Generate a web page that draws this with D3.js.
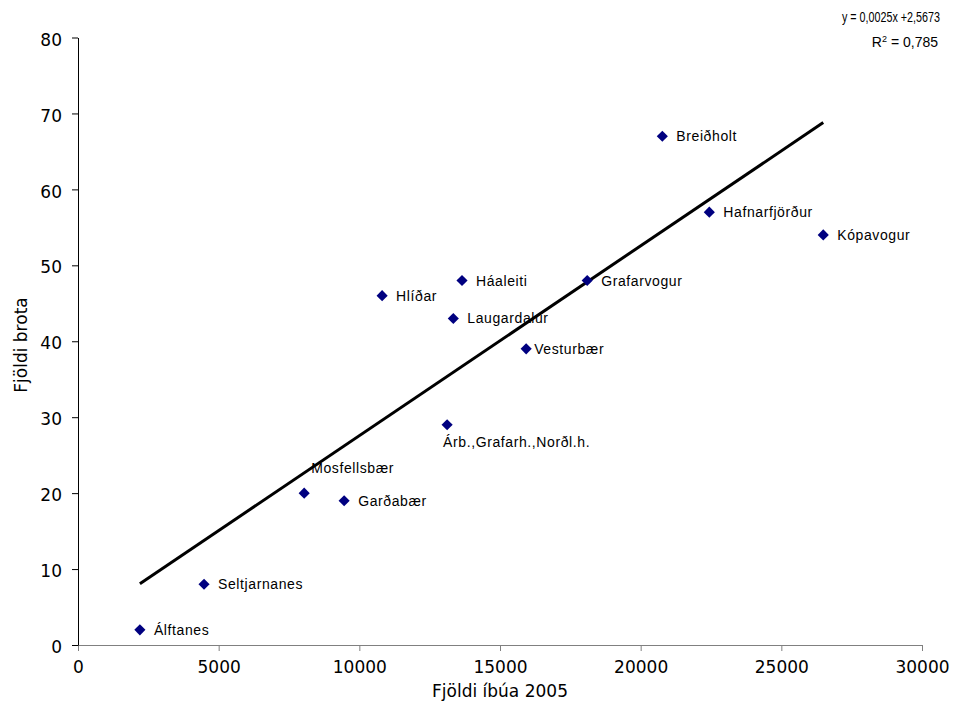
<!DOCTYPE html>
<html><head><meta charset="utf-8">
<script src="https://cdn.jsdelivr.net/npm/d3@7"></script>
<style>body{margin:0;background:#fff}</style>
</head><body>
<svg id="c" width="975" height="726"></svg>
<script>
const names = ["Álftanes","Seltjarnanes","Mosfellsbær","Garðabær","Hlíðar","Háaleiti","Laugardalur","Árb.,Grafarh.,Norðl.h.","Vesturbær","Grafarvogur","Breiðholt","Hafnarfjörður","Kópavogur"];
const population = [2200,4480,8040,9460,10810,13650,13340,13120,15930,18100,20770,22440,26490];
const offences = [2,8,20,19,46,48,43,29,39,48,67,57,54];
const labelPos = ["right","right","above","right","right","right","right","below","rightNear","right","right","right","right"];
const xTicks = [0,5000,10000,15000,20000,25000,30000];
const yTicks = [0,10,20,30,40,50,60,70,80];
const slope = 0.0025, intercept = 2.5673;
const eqText = "y = 0,0025x +2,5673", r2Text = "0,785";

const svg = d3.select("#c");
const x = d3.scaleLinear().domain([0,30000]).range([78,922]);
const y = d3.scaleLinear().domain([0,80]).range([645,37.5]);

// axes
const xa = svg.append("g").attr("transform","translate(0,645)")
  .call(d3.axisBottom(x).tickValues(xTicks).tickSize(6).tickSizeOuter(0).tickFormat(d3.format("d")));
xa.select(".domain").attr("stroke","#808080");
xa.selectAll(".tick line").attr("stroke","#808080");
xa.selectAll(".tick text").attr("font-family","DejaVu Sans").attr("font-size",17).attr("fill","#000").attr("dy","1.1em");

const ya = svg.append("g").attr("transform","translate(78,0)")
  .call(d3.axisLeft(y).tickValues(yTicks).tickSize(6).tickSizeOuter(0));
ya.select(".domain").attr("stroke","#000");
ya.selectAll(".tick line").attr("stroke","#000");
ya.selectAll(".tick text").attr("font-family","DejaVu Sans").attr("font-size",17).attr("fill","#000").attr("x",-16).attr("dy","0.45em");

// axis titles
svg.append("text").attr("x",500).attr("y",697).attr("text-anchor","middle")
  .attr("font-family","DejaVu Sans").attr("font-size",17).text("Fjöldi íbúa 2005");
svg.append("text").attr("transform","translate(27,345) rotate(-90)").attr("text-anchor","middle")
  .attr("font-family","DejaVu Sans").attr("font-size",17).text("Fjöldi brota");

// trend line
const xmin = d3.min(population), xmax = d3.max(population);
svg.append("line")
  .attr("x1",x(xmin)).attr("y1",y(slope*xmin+intercept))
  .attr("x2",x(xmax)).attr("y2",y(slope*xmax+intercept))
  .attr("stroke","#000").attr("stroke-width",3);

// points
const data = names.map((n,i)=>({n, px:population[i], py:offences[i], pos:labelPos[i]}));
svg.append("g").selectAll("path").data(data).join("path")
  .attr("transform",d=>`translate(${x(d.px)},${y(d.py)}) rotate(45)`)
  .attr("d",d3.symbol(d3.symbolSquare,62))
  .attr("fill","#000080");

// labels
svg.append("g").selectAll("text").data(data).join("text")
  .attr("font-family","Liberation Sans, Arial").attr("font-size",14).attr("letter-spacing",0.6).attr("fill","#000")
  .attr("x",d=> d.pos==="above" ? x(d.px)+7 : d.pos==="below" ? x(d.px)-4 : d.pos==="rightNear" ? x(d.px)+8 : x(d.px)+14)
  .attr("y",d=> d.pos==="above" ? y(d.py)-20 : d.pos==="below" ? y(d.py)+22 : y(d.py)+5)
  .text(d=>d.n);

// equation
svg.append("text").attr("x",940).attr("y",22).attr("text-anchor","end")
  .attr("font-family","Liberation Sans, Arial").attr("font-size",14)
  .attr("textLength",98).attr("lengthAdjust","spacingAndGlyphs").text(eqText);
const r = svg.append("text").attr("x",938).attr("y",47).attr("text-anchor","end")
  .attr("font-family","Liberation Sans, Arial").attr("font-size",14);
r.append("tspan").text("R");
r.append("tspan").attr("dy",-5).attr("font-size",9).text("2");
r.append("tspan").attr("dy",5).text(" = " + r2Text);
</script>
</body></html>
